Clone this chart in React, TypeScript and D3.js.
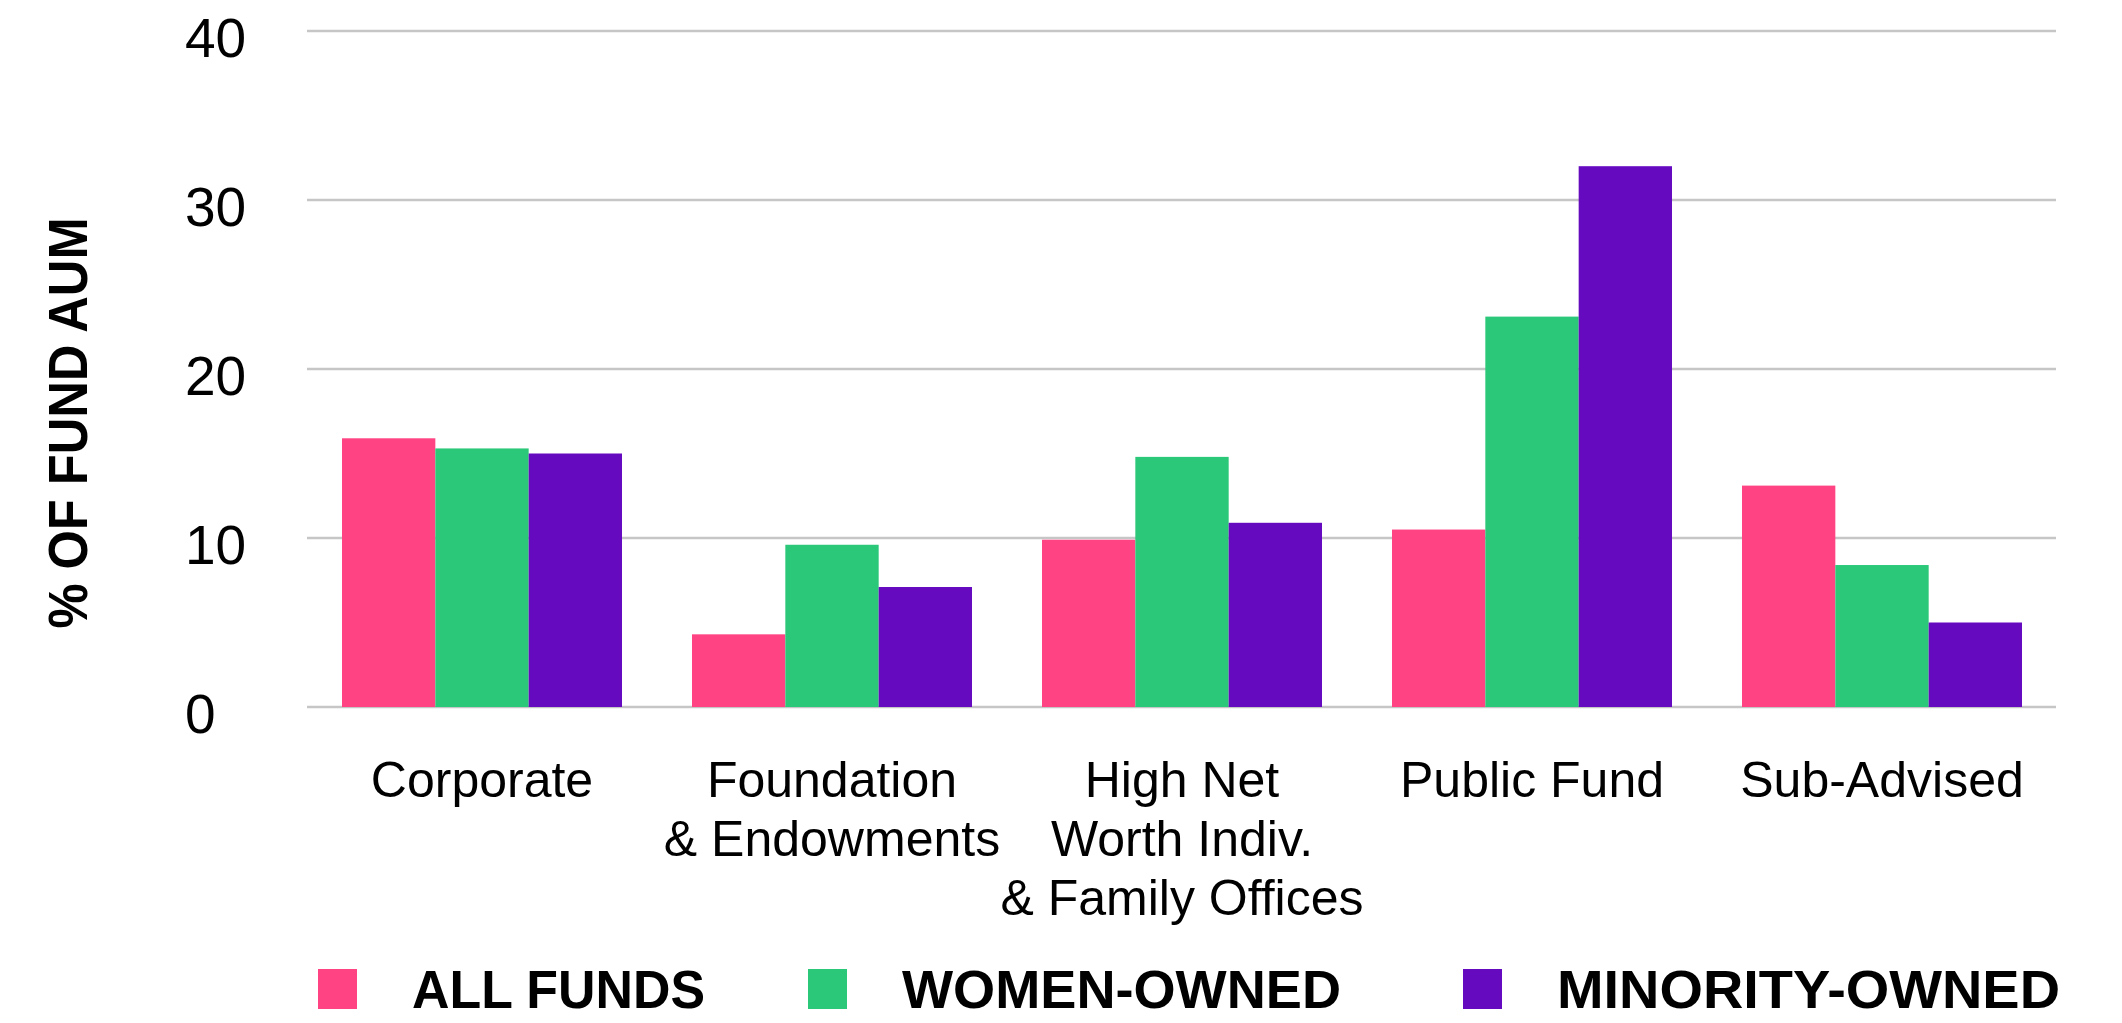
import * as React from "react";
import * as d3 from "d3";

const categories = [
  ["Corporate"],
  ["Foundation", "& Endowments"],
  ["High Net", "Worth Indiv.", "& Family Offices"],
  ["Public Fund"],
  ["Sub-Advised"],
];
const seriesNames = ["ALL FUNDS", "WOMEN-OWNED", "MINORITY-OWNED"];
const allFunds = [15.9, 4.3, 9.9, 10.5, 13.1];
const womenOwned = [15.3, 9.6, 14.8, 23.1, 8.4];
const minorityOwned = [15.0, 7.1, 10.9, 32.0, 5.0];
const yTicks = [0, 10, 20, 30, 40];
const colors = ["#FF4383", "#2AC878", "#660AC0"];

const W = 2122;
const H = 1023;
const REGULAR = "'Liberation Sans', Arial, sans-serif";
const BOLD = "'Liberation Sans Narrow', 'Liberation Sans', Arial, sans-serif";

function drawChart(svgEl: SVGSVGElement) {
  const svg = d3.select(svgEl);
  svg.selectAll("*").remove();

  const series = [allFunds, womenOwned, minorityOwned];
  const keys = categories.map((c) => c.join(" "));

  const x = d3.scaleBand<string>().domain(keys).range([307, 2057]).paddingInner(0.2).paddingOuter(0.1);
  const xs = d3.scaleBand<number>().domain(d3.range(series.length)).range([0, x.bandwidth()]);
  const y = d3.scaleLinear().domain([0, 40]).range([707, 31]);

  // gridlines
  svg.append("g")
    .selectAll("line")
    .data(yTicks)
    .enter()
    .append("line")
    .attr("x1", 307)
    .attr("x2", 2056)
    .attr("y1", (d) => y(d))
    .attr("y2", (d) => y(d))
    .style("stroke", "#C6C6C6")
    .style("stroke-width", 2.4);

  // tick labels (left aligned)
  svg.append("g")
    .selectAll("text")
    .data(yTicks)
    .enter()
    .append("text")
    .attr("x", 185)
    .attr("y", (d) => y(d) + 26)
    .style("font-family", REGULAR)
    .style("font-size", "55px")
    .style("fill", "#000")
    .text((d) => String(d));

  // bars
  const groups = svg.append("g")
    .selectAll("g")
    .data(keys)
    .enter()
    .append("g")
    .attr("transform", (d) => `translate(${x(d)},0)`);

  groups.selectAll("rect")
    .data((_, i) => series.map((s) => s[i]))
    .enter()
    .append("rect")
    .attr("x", (_, j) => xs(j)!)
    .attr("width", xs.bandwidth())
    .attr("y", (d) => y(d))
    .attr("height", (d) => y(0) - y(d))
    .style("fill", (_, j) => colors[j]);

  // category labels
  const labels = svg.append("g")
    .selectAll("text")
    .data(categories)
    .enter()
    .append("text")
    .attr("text-anchor", "middle")
    .style("font-family", REGULAR)
    .style("font-size", "50px")
    .style("fill", "#000");

  labels.each(function (lines, i) {
    const t = d3.select(this);
    const cx = x(keys[i])! + x.bandwidth() / 2;
    lines.forEach((line, k) => {
      t.append("tspan").attr("x", cx).attr("y", 797 + k * 59).text(line);
    });
  });

  // y axis title
  svg.append("text")
    .attr("transform", "translate(87,423) rotate(-90)")
    .attr("text-anchor", "middle")
    .attr("textLength", 411)
    .attr("lengthAdjust", "spacingAndGlyphs")
    .style("font-family", BOLD)
    .style("font-weight", "bold")
    .style("font-size", "56px")
    .style("fill", "#000")
    .text("% OF FUND AUM");

  // legend
  const legendX = [318, 808, 1463];
  const legendTextW = [293, 439, 503];
  const legend = svg.append("g")
    .selectAll("g")
    .data(seriesNames)
    .enter()
    .append("g")
    .attr("transform", (_, i) => `translate(${legendX[i]},0)`);

  legend.append("rect")
    .attr("x", 0)
    .attr("y", 969)
    .attr("width", 39)
    .attr("height", 40)
    .style("fill", (_, i) => colors[i]);

  legend.append("text")
    .attr("x", 94)
    .attr("y", 1008)
    .attr("textLength", (_, i) => legendTextW[i])
    .attr("lengthAdjust", "spacingAndGlyphs")
    .style("font-family", BOLD)
    .style("font-weight", "bold")
    .style("font-size", "53px")
    .style("fill", "#000")
    .text((d) => d);
}

const App: React.FunctionComponent = () => {
  const svg = React.useRef<SVGSVGElement>(null);
  React.useEffect(() => {
    if (svg.current) drawChart(svg.current);
  }, []);

  return (
    <svg
      ref={svg}
      width={W}
      height={H}
      style={{ position: "fixed", left: 0, top: 0, background: "#fff", display: "block" }}
    />
  );
};

export default App;
